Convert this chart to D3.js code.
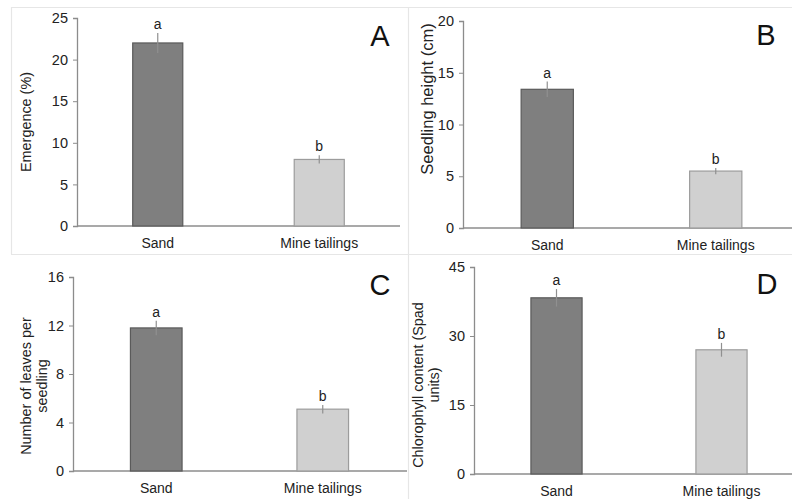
<!DOCTYPE html>
<html>
<head>
<meta charset="utf-8">
<script src="https://cdn.jsdelivr.net/npm/d3@7/dist/d3.min.js"></script>
<style>
  body { margin: 0; background: #fff; }
  svg { display: block; font-family: "Liberation Sans", Arial, sans-serif; }
</style>
</head>
<body>
<div id="chart"></div>
<script>
var categories = ["Sand", "Mine tailings"];

var emergence = [22.0, 8.0];
var emergenceErr = [1.2, 0.5];
var seedlingHeight = [13.4, 5.5];
var seedlingHeightErr = [0.75, 0.3];
var leaves = [11.8, 5.1];
var leavesErr = [0.6, 0.35];
var chlorophyll = [38.3, 27.0];
var chlorophyllErr = [1.9, 1.5];

var letters = ["a", "b"];
var panelLetters = ["A", "B", "C", "D"];

var ticksA = [0, 5, 10, 15, 20, 25];
var ticksB = [0, 5, 10, 15, 20];
var ticksC = [0, 4, 8, 12, 16];
var ticksD = [0, 15, 30, 45];

var width = 792, height = 499;
var barColors = ["#7f7f7f", "#d0d0d0"];
var barStroke = ["#5a5a5a", "#9c9c9c"];

var svg = d3.select("#chart").append("svg")
    .attr("width", width).attr("height", height);

// faint frame lines around the panels
var frame = svg.append("g").attr("stroke", "#e6e6e6").attr("stroke-width", 1.2);
frame.append("line").attr("x1", 11).attr("x2", 792).attr("y1", 7.5).attr("y2", 7.5);
frame.append("line").attr("x1", 11.5).attr("x2", 11.5).attr("y1", 7).attr("y2", 254);
frame.append("line").attr("x1", 11).attr("x2", 792).attr("y1", 254.5).attr("y2", 254.5);
frame.append("line").attr("x1", 408.5).attr("x2", 408.5).attr("y1", 7).attr("y2", 499);

var panels = [
  { values: emergence, err: emergenceErr, ticks: ticksA, max: 25,
    x0: 77, x1: 400, xEnd: 400, yTop: 18, yBottom: 226,
    label: ["Emergence (%)"], labelSize: 14.4, labelX: 26, labelY: 122,
    letter: panelLetters[0], letterX: 380, letterY: 36 },
  { values: seedlingHeight, err: seedlingHeightErr, ticks: ticksB, max: 20,
    x0: 463, x1: 800, xEnd: 792, yTop: 21, yBottom: 228,
    label: ["Seedling height (cm)"], labelSize: 16.5, labelX: 427, labelY: 99,
    letter: panelLetters[1], letterX: 766, letterY: 35 },
  { values: leaves, err: leavesErr, ticks: ticksC, max: 16,
    x0: 73, x1: 406, xEnd: 407, yTop: 277, yBottom: 471,
    label: ["Number of leaves per", "seedling"], labelSize: 14.4, labelX: 34, labelY: 386,
    letter: panelLetters[2], letterX: 380, letterY: 285 },
  { values: chlorophyll, err: chlorophyllErr, ticks: ticksD, max: 45,
    x0: 474, x1: 804, xEnd: 792, yTop: 267, yBottom: 474,
    label: ["Chlorophyll content (Spad", "units)"], labelSize: 14.4, labelX: 426, labelY: 385,
    letter: panelLetters[3], letterX: 767, letterY: 284 }
];

panels.forEach(function(p) {
  var g = svg.append("g");
  var x = d3.scalePoint().domain(categories).range([p.x0, p.x1]).padding(0.5);
  var y = d3.scaleLinear().domain([0, p.max]).range([p.yBottom, p.yTop]);
  var barW = x.step() * 0.31;

  var yAxis = d3.axisLeft(y).tickValues(p.ticks).tickSize(4).tickPadding(5);
  var ya = g.append("g").attr("transform", "translate(" + p.x0 + ",0)").call(yAxis);
  ya.select(".domain").attr("stroke", "#8c8c8c").attr("stroke-width", 1.3);
  ya.selectAll(".tick line").attr("stroke", "#8c8c8c");
  ya.selectAll(".tick text").attr("fill", "#222").style("font-size", "14.5px")
    .style("font-family", "Liberation Sans, Arial, sans-serif");

  g.append("line")
    .attr("x1", p.x0).attr("x2", p.xEnd)
    .attr("y1", p.yBottom).attr("y2", p.yBottom)
    .attr("stroke", "#8c8c8c").attr("stroke-width", 1.3);

  g.selectAll("rect").data(p.values).enter().append("rect")
    .attr("x", function(d, i) { return x(categories[i]) - barW / 2; })
    .attr("y", function(d) { return y(d); })
    .attr("width", barW)
    .attr("height", function(d) { return y(0) - y(d); })
    .attr("fill", function(d, i) { return barColors[i]; })
    .attr("stroke", function(d, i) { return barStroke[i]; })
    .attr("stroke-width", 1.2);

  g.selectAll("line.err").data(p.values).enter().append("line")
    .attr("class", "err")
    .attr("x1", function(d, i) { return x(categories[i]); })
    .attr("x2", function(d, i) { return x(categories[i]); })
    .attr("y1", function(d, i) { return y(d - p.err[i]); })
    .attr("y2", function(d, i) { return y(d + p.err[i]); })
    .attr("stroke", "#909090").attr("stroke-width", 1.2);

  g.selectAll("text.sig").data(p.values).enter().append("text")
    .attr("class", "sig")
    .attr("x", function(d, i) { return x(categories[i]); })
    .attr("y", function(d, i) { return y(d + p.err[i]) - 4; })
    .attr("text-anchor", "middle")
    .style("font-size", "14px").attr("fill", "#222")
    .text(function(d, i) { return letters[i]; });

  g.selectAll("text.cat").data(categories).enter().append("text")
    .attr("class", "cat")
    .attr("x", function(d) { return x(d); })
    .attr("y", p.yBottom + 22)
    .attr("text-anchor", "middle")
    .style("font-size", "14px").attr("fill", "#222")
    .text(function(d) { return d; });

  var lab = g.append("text")
    .attr("transform", "translate(" + p.labelX + "," + p.labelY + ") rotate(-90)")
    .attr("text-anchor", "middle")
    .style("font-size", p.labelSize + "px").attr("fill", "#222");
  var first = p.label.length > 1 ? -0.2 : 0.35;
  p.label.forEach(function(t, i) {
    lab.append("tspan").attr("x", 0).attr("dy", i === 0 ? first + "em" : "1.1em").text(t);
  });

  g.append("text")
    .attr("x", p.letterX).attr("y", p.letterY)
    .attr("text-anchor", "middle").attr("dominant-baseline", "central")
    .style("font-size", "29px").attr("fill", "#111")
    .text(p.letter);
});
</script>
</body>
</html>
